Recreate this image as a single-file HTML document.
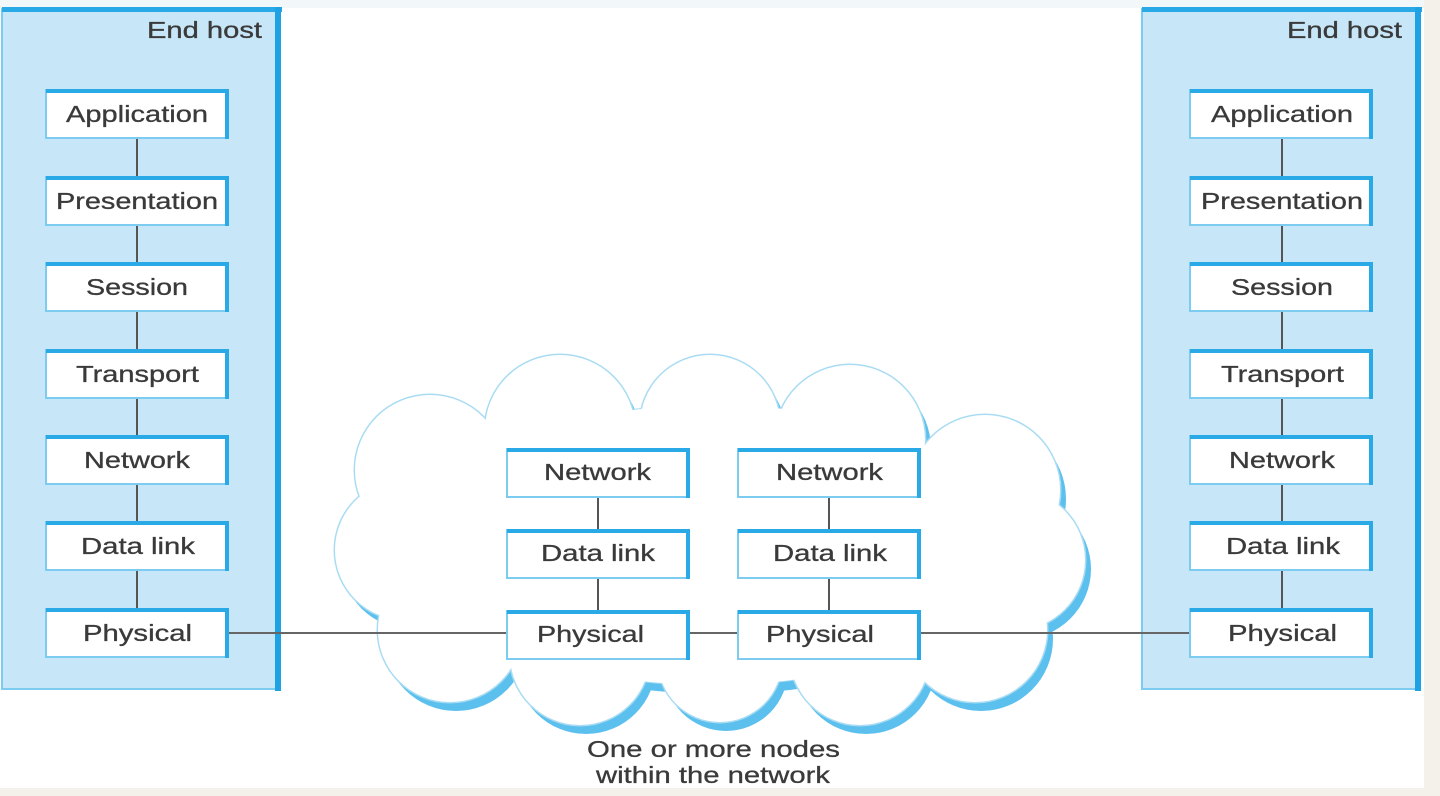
<!DOCTYPE html>
<html><head><meta charset="utf-8"><style>
html,body{margin:0;padding:0;background:#f4f0ea;}
svg{display:block}
text{font-family:"Liberation Sans",Arial,sans-serif;fill:#3a3a3a;font-size:23px;stroke:#3a3a3a;stroke-width:0.3px;}
</style></head><body>
<svg width="1440" height="796" viewBox="0 0 1440 796" xmlns="http://www.w3.org/2000/svg">
<defs>
<g id="box">
<rect x="0" y="0" width="182" height="48" fill="#fff" stroke="#7ccbf0" stroke-width="2"/>
<rect x="0" y="-1" width="182" height="4" fill="#29a9e6"/>
<rect x="179" y="-1" width="4" height="50" fill="#29a9e6"/>
</g>
</defs>
<rect x="0" y="0" width="1424" height="788" fill="#ffffff"/>
<rect x="0" y="0" width="1424" height="8" fill="#f2f7fa"/>
<rect x="2" y="9" width="276" height="680" fill="#c7e7f8" stroke="#7ccbf0" stroke-width="2"/>
<rect x="2" y="7" width="280" height="5" fill="#29a9e6"/>
<rect x="275" y="7" width="6" height="684" fill="#1ea2e4"/>
<rect x="1142" y="9" width="276" height="680" fill="#c7e7f8" stroke="#7ccbf0" stroke-width="2"/>
<rect x="1142" y="7" width="280" height="5" fill="#29a9e6"/>
<rect x="1415" y="7" width="6" height="684" fill="#1ea2e4"/>
<g fill="#5cc0ee" transform="translate(6,9)">
<circle cx="430" cy="470" r="75"/><circle cx="560" cy="430" r="75"/><circle cx="710" cy="425" r="70"/><circle cx="850" cy="440" r="75"/><circle cx="985" cy="490" r="75"/><circle cx="1015" cy="560" r="70"/><circle cx="975" cy="630" r="72"/><circle cx="860" cy="655" r="70"/><circle cx="720" cy="660" r="62"/><circle cx="580" cy="655" r="70"/><circle cx="450" cy="630" r="72"/><circle cx="405" cy="550" r="70"/><ellipse cx="712" cy="545" rx="300" ry="140"/>
</g>
<g fill="#a9dcf3">
<circle cx="430" cy="470" r="76.5"/><circle cx="560" cy="430" r="76.5"/><circle cx="710" cy="425" r="71.5"/><circle cx="850" cy="440" r="76.5"/><circle cx="985" cy="490" r="76.5"/><circle cx="1015" cy="560" r="71.5"/><circle cx="975" cy="630" r="73.5"/><circle cx="860" cy="655" r="71.5"/><circle cx="720" cy="660" r="63.5"/><circle cx="580" cy="655" r="71.5"/><circle cx="450" cy="630" r="73.5"/><circle cx="405" cy="550" r="71.5"/><ellipse cx="712" cy="545" rx="301" ry="141"/>
</g>
<g fill="#fff">
<circle cx="430" cy="470" r="75"/><circle cx="560" cy="430" r="75"/><circle cx="710" cy="425" r="70"/><circle cx="850" cy="440" r="75"/><circle cx="985" cy="490" r="75"/><circle cx="1015" cy="560" r="70"/><circle cx="975" cy="630" r="72"/><circle cx="860" cy="655" r="70"/><circle cx="720" cy="660" r="62"/><circle cx="580" cy="655" r="70"/><circle cx="450" cy="630" r="72"/><circle cx="405" cy="550" r="70"/><ellipse cx="712" cy="545" rx="300" ry="140"/>
</g>
<g stroke="#555" stroke-width="2">
<line x1="137" y1="138" x2="137" y2="610"/>
<line x1="1282" y1="138" x2="1282" y2="610"/>
<line x1="598" y1="498" x2="598" y2="610"/>
<line x1="829" y1="498" x2="829" y2="610"/>
<line x1="228" y1="633" x2="1190" y2="633" stroke="#666"/>
</g>
<use href="#box" x="46" y="90"/><use href="#box" x="46" y="177"/><use href="#box" x="46" y="263"/><use href="#box" x="46" y="350"/><use href="#box" x="46" y="436"/><use href="#box" x="46" y="522"/><use href="#box" x="46" y="609"/>
<use href="#box" x="1190" y="90"/><use href="#box" x="1190" y="177"/><use href="#box" x="1190" y="263"/><use href="#box" x="1190" y="350"/><use href="#box" x="1190" y="436"/><use href="#box" x="1190" y="522"/><use href="#box" x="1190" y="609"/>
<use href="#box" x="507" y="449"/><use href="#box" x="507" y="530"/><use href="#box" x="507" y="611"/>
<use href="#box" x="738" y="449"/><use href="#box" x="738" y="530"/><use href="#box" x="738" y="611"/>
<g lengthAdjust="spacingAndGlyphs">
<text x="147" y="38" textLength="115" lengthAdjust="spacingAndGlyphs">End host</text>
<text x="1287" y="38" textLength="115" lengthAdjust="spacingAndGlyphs">End host</text>
<text x="66" y="122" textLength="142" lengthAdjust="spacingAndGlyphs">Application</text>
<text x="56" y="209" textLength="162" lengthAdjust="spacingAndGlyphs">Presentation</text>
<text x="86" y="295" textLength="102" lengthAdjust="spacingAndGlyphs">Session</text>
<text x="76" y="382" textLength="123" lengthAdjust="spacingAndGlyphs">Transport</text>
<text x="84" y="468" textLength="106" lengthAdjust="spacingAndGlyphs">Network</text>
<text x="81" y="554" textLength="114" lengthAdjust="spacingAndGlyphs">Data link</text>
<text x="83" y="641" textLength="109" lengthAdjust="spacingAndGlyphs">Physical</text>
<text x="1211" y="122" textLength="142" lengthAdjust="spacingAndGlyphs">Application</text>
<text x="1201" y="209" textLength="162" lengthAdjust="spacingAndGlyphs">Presentation</text>
<text x="1231" y="295" textLength="102" lengthAdjust="spacingAndGlyphs">Session</text>
<text x="1221" y="382" textLength="123" lengthAdjust="spacingAndGlyphs">Transport</text>
<text x="1229" y="468" textLength="106" lengthAdjust="spacingAndGlyphs">Network</text>
<text x="1226" y="554" textLength="114" lengthAdjust="spacingAndGlyphs">Data link</text>
<text x="1228" y="641" textLength="109" lengthAdjust="spacingAndGlyphs">Physical</text>
<text x="544" y="480" textLength="107" lengthAdjust="spacingAndGlyphs">Network</text>
<text x="541" y="561" textLength="114" lengthAdjust="spacingAndGlyphs">Data link</text>
<text x="537" y="642" textLength="107" lengthAdjust="spacingAndGlyphs">Physical</text>
<text x="776" y="480" textLength="107" lengthAdjust="spacingAndGlyphs">Network</text>
<text x="773" y="561" textLength="114" lengthAdjust="spacingAndGlyphs">Data link</text>
<text x="766" y="642" textLength="108" lengthAdjust="spacingAndGlyphs">Physical</text>
<text x="587" y="757" textLength="253" lengthAdjust="spacingAndGlyphs">One or more nodes</text>
<text x="596" y="783" textLength="234" lengthAdjust="spacingAndGlyphs">within the network</text>
</g>
</svg>
</body></html>
